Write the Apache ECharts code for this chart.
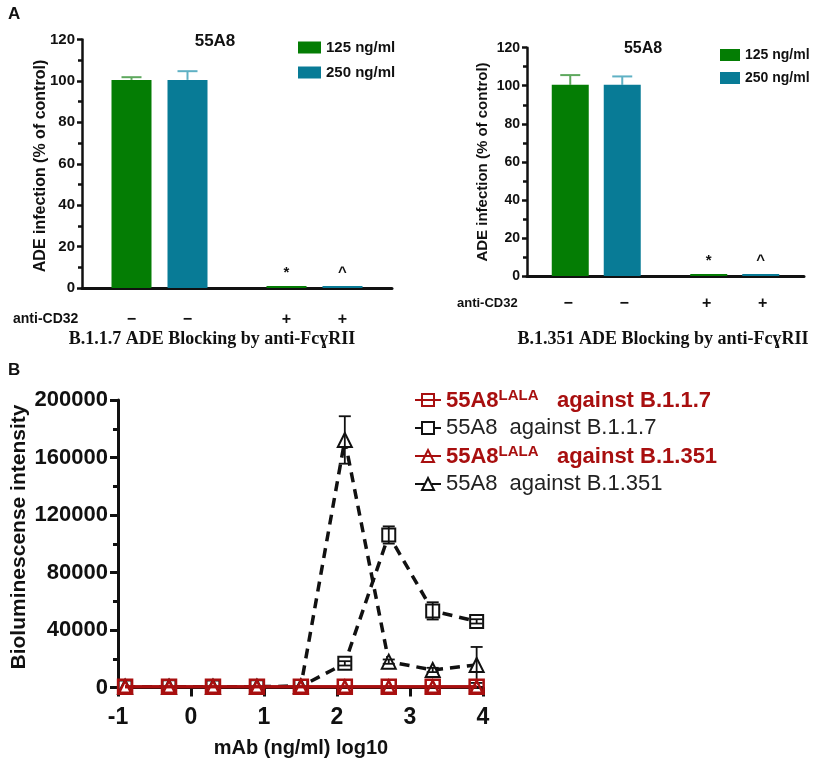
<!DOCTYPE html>
<html>
<head>
<meta charset="utf-8">
<script src="https://cdn.jsdelivr.net/npm/echarts@6/dist/echarts.min.js"></script>
<style>
  html, body { margin: 0; padding: 0; background: #fff; }
  #main { width: 829px; height: 766px; }
</style>
</head>
<body>
<div id="main"></div>
<script>
// panel A: ADE blocking (% of control)
var groupsA = ['−', '+'];
var b117_125 = [100.5, 1.0];
var b117_250 = [100.5, 1.0];
var b117_err125 = [1.3, 0];
var b117_err250 = [4.2, 0];
var b1351_125 = [100.5, 1.0];
var b1351_250 = [100.5, 1.0];
var b1351_err125 = [5.1, 0];
var b1351_err250 = [4.4, 0];
var sigMark125 = ['', '*'];
var sigMark250 = ['', '^'];

// panel B: bioluminescence vs log10 dose
var logDose = [-0.903, -0.301, 0.301, 0.903, 1.505, 2.107, 2.709, 3.311, 3.913];
var lala117 = [500, 500, 500, 500, 500, 500, 500, 500, 500];
var wt117 = [400, 500, 400, 500, 700, 16800, 106100, 53300, 46000];
var wt117Err = [0, 0, 0, 0, 0, 1500, 6000, 6000, 1500];
var lala1351 = [500, 500, 500, 500, 500, 500, 500, 500, 500];
var wt1351 = [500, 600, 500, 600, 900, 172200, 18000, 12200, 15700];
var wt1351Err = [0, 0, 0, 0, 0, 16500, 1500, 1500, 12500];

var GREEN = '#047d04', TEAL = '#087b96', RED = '#a80f0f', INK = '#111';
var FONT = 'Liberation Sans, Arial, sans-serif';

function pairs(xs, ys) {
  return xs.map(function (x, i) { return [x, ys[i]]; });
}
function errData(xs, ys, es) {
  var out = [];
  xs.forEach(function (x, i) { if (es[i] > 0) out.push([x, ys[i] - es[i], ys[i] + es[i]]); });
  return out;
}
function upErr(vals, es) {
  return vals.map(function (v, i) { return [i, v, v + es[i]]; }).filter(function (d, i) { return es[i] > 0; });
}

// error bar drawer; off = horizontal pixel shift, cap = cap width, both = caps on both ends
function errRender(off, cap, color, width, both) {
  return function (params, api) {
    var hi = api.coord([api.value(0), api.value(2)]);
    var lo = api.coord([api.value(0), api.value(1)]);
    var x = hi[0] + off;
    var st = { stroke: color, lineWidth: width, fill: null };
    var ch = [
      { type: 'line', shape: { x1: x, y1: lo[1], x2: x, y2: hi[1] }, style: st },
      { type: 'line', shape: { x1: x - cap / 2, y1: hi[1], x2: x + cap / 2, y2: hi[1] }, style: st }
    ];
    if (both) ch.push({ type: 'line', shape: { x1: x - cap / 2, y1: lo[1], x2: x + cap / 2, y2: lo[1] }, style: st });
    return { type: 'group', children: ch };
  };
}

function catAxis(grid, pitch, margin) {
  return {
    type: 'category', gridIndex: grid, data: groupsA,
    axisLine: { lineStyle: { color: INK, width: 3 } },
    axisTick: { alignWithLabel: true, length: 7, lineStyle: { color: INK, width: 3 } },
    axisLabel: {
      margin: margin,
      formatter: function (v) { return '{s|' + v + '}{s|' + v + '}'; },
      rich: { s: { width: pitch, align: 'center', fontSize: 16, fontWeight: 'bold', color: INK, fontFamily: FONT } }
    }
  };
}
function pctAxis(grid, fs) {
  return {
    type: 'value', gridIndex: grid, min: 0, max: 120, interval: 20,
    axisLine: { show: true, onZero: false, lineStyle: { color: INK, width: 2.5 } },
    axisTick: { show: true, length: 5, lineStyle: { color: INK, width: 2.5 } },
    minorTick: { show: true, splitNumber: 2, length: 4, lineStyle: { color: INK, width: 2.5 } },
    splitLine: { show: false },
    axisLabel: { margin: 7, fontSize: fs, fontWeight: 'bold', color: INK, fontFamily: FONT }
  };
}
function barSeries(name, grid, vals, color, w, gap, marks) {
  return {
    type: 'bar', name: name, xAxisIndex: grid, yAxisIndex: grid,
    data: vals, barWidth: w, barGap: gap,
    itemStyle: { color: color },
    label: {
      show: true, position: 'top', distance: 6, fontSize: 15, fontWeight: 'bold', color: INK,
      formatter: function (p) { return marks[p.dataIndex]; }
    }
  };
}

function legendB(name) {
  var tail = name.split('against ')[1];
  if (name.indexOf('LALA') > 0) return '{r|55A8}{rs|LALA}{r|   against ' + tail + '}';
  return '{k|55A8  against ' + tail + '}';
}

var chart = echarts.init(document.getElementById('main'));
var option = {
  animation: false,
  textStyle: { fontFamily: FONT },
  grid: [
    { left: 82, top: 39.5, width: 310, height: 248.5 },
    { left: 527, top: 47.7, width: 277, height: 228.3 },
    { left: 118, top: 400, width: 365, height: 287.5 }
  ],
  xAxis: [
    catAxis(0, 56, 24),
    catAxis(1, 56, 20),
    {
      type: 'value', gridIndex: 2, min: -1, max: 4, interval: 1,
      axisLine: { onZero: false, lineStyle: { color: INK, width: 3 } },
      axisTick: { length: 9, lineStyle: { color: INK, width: 3 } },
      splitLine: { show: false },
      axisLabel: { margin: 19, fontSize: 23, fontWeight: 'bold', color: INK, fontFamily: FONT }
    }
  ],
  yAxis: [
    pctAxis(0, 15),
    pctAxis(1, 14),
    {
      type: 'value', gridIndex: 2, min: 0, max: 200000, interval: 40000,
      axisLine: { show: true, onZero: false, lineStyle: { color: INK, width: 3 } },
      axisTick: { show: true, length: 8, lineStyle: { color: INK, width: 3 } },
      minorTick: { show: true, splitNumber: 2, length: 5, lineStyle: { color: INK, width: 3 } },
      splitLine: { show: false },
      axisLabel: {
        margin: 10, fontSize: 22, fontWeight: 'bold', color: INK, fontFamily: FONT,
        formatter: function (v) { return String(v); }
      }
    }
  ],
  legend: [
    {
      data: ['125 ng/ml', '250 ng/ml'], left: 293, top: 35, orient: 'vertical',
      icon: 'rect', itemWidth: 23, itemHeight: 12, itemGap: 10, selectedMode: false,
      textStyle: { fontSize: 15, fontWeight: 'bold', color: INK, fontFamily: FONT }
    },
    {
      data: ['125 ng/ml', '250 ng/ml'], left: 715, top: 43, orient: 'vertical',
      icon: 'rect', itemWidth: 20, itemHeight: 12, itemGap: 9, selectedMode: false,
      textStyle: { fontSize: 14, fontWeight: 'bold', color: INK, fontFamily: FONT }
    },
    {
      data: ['55A8LALA against B.1.1.7', '55A8 against B.1.1.7', '55A8LALA against B.1.351', '55A8 against B.1.351'],
      left: 409, top: 383, orient: 'vertical', itemWidth: 26, itemHeight: 15, itemGap: 5,
      selectedMode: false, formatter: legendB,
      textStyle: {
        fontFamily: FONT,
        rich: {
          r: { fontSize: 22, fontWeight: 'bold', color: RED, lineHeight: 24, verticalAlign: 'bottom', fontFamily: FONT },
          rs: { fontSize: 15, fontWeight: 'bold', color: RED, lineHeight: 14, verticalAlign: 'top', fontFamily: FONT },
          k: { fontSize: 22, color: '#222', lineHeight: 24, fontFamily: FONT }
        }
      }
    }
  ],
  series: [
    barSeries('125 ng/ml', 0, b117_125, GREEN, 40, '40%', sigMark125),
    barSeries('250 ng/ml', 0, b117_250, TEAL, 40, '40%', sigMark250),
    barSeries('125 ng/ml', 1, b1351_125, GREEN, 37, '40.5%', sigMark125),
    barSeries('250 ng/ml', 1, b1351_250, TEAL, 37, '40.5%', sigMark250),
    { type: 'custom', xAxisIndex: 0, yAxisIndex: 0, data: upErr(b117_125, b117_err125), renderItem: errRender(-28, 20, '#5ea85e', 2, false), z: 1 },
    { type: 'custom', xAxisIndex: 0, yAxisIndex: 0, data: upErr(b117_250, b117_err250), renderItem: errRender(28, 20, '#5fb1c4', 2, false), z: 1 },
    { type: 'custom', xAxisIndex: 1, yAxisIndex: 1, data: upErr(b1351_125, b1351_err125), renderItem: errRender(-26, 20, '#5ea85e', 2, false), z: 1 },
    { type: 'custom', xAxisIndex: 1, yAxisIndex: 1, data: upErr(b1351_250, b1351_err250), renderItem: errRender(26, 20, '#5fb1c4', 2, false), z: 1 },

    {
      type: 'line', name: '55A8 against B.1.1.7', xAxisIndex: 2, yAxisIndex: 2,
      data: pairs(logDose, wt117), symbol: 'emptyRect', symbolSize: 13,
      lineStyle: { color: INK, width: 3.5, type: [10, 7] },
      itemStyle: { color: INK, borderColor: INK, borderWidth: 2 }, z: 3
    },
    {
      type: 'line', name: '55A8 against B.1.351', xAxisIndex: 2, yAxisIndex: 2,
      data: pairs(logDose, wt1351), symbol: 'emptyTriangle', symbolSize: 14,
      lineStyle: { color: INK, width: 3.5, type: [10, 7] },
      itemStyle: { color: INK, borderColor: INK, borderWidth: 2 }, z: 3
    },
    { type: 'custom', xAxisIndex: 2, yAxisIndex: 2, data: errData(logDose, wt117, wt117Err), renderItem: errRender(0, 12, INK, 1.8, true), z: 4 },
    { type: 'custom', xAxisIndex: 2, yAxisIndex: 2, data: errData(logDose, wt1351, wt1351Err), renderItem: errRender(0, 12, INK, 1.8, true), z: 4 },
    {
      type: 'line', name: '55A8LALA against B.1.1.7', xAxisIndex: 2, yAxisIndex: 2,
      data: pairs(logDose, lala117), symbol: 'rect', symbolSize: 14,
      lineStyle: { color: RED, width: 3 },
      itemStyle: { color: 'rgba(0,0,0,0)', borderColor: RED, borderWidth: 2.5 }, z: 5
    },
    {
      type: 'line', name: '55A8LALA against B.1.351', xAxisIndex: 2, yAxisIndex: 2,
      data: pairs(logDose, lala1351), symbol: 'triangle', symbolSize: 12,
      lineStyle: { color: RED, width: 3 },
      itemStyle: { color: 'rgba(0,0,0,0)', borderColor: RED, borderWidth: 2.5 }, z: 5
    }
  ],
  graphic: [
    { type: 'text', x: 8, y: 6, style: { text: 'A', font: 'bold 17px ' + FONT, fill: INK } },
    { type: 'text', x: 8, y: 362, style: { text: 'B', font: 'bold 17px ' + FONT, fill: INK } },
    { type: 'text', x: 41, y: 166, rotation: Math.PI / 2, style: { text: 'ADE infection (% of control)', font: 'bold 16px ' + FONT, fill: INK, align: 'center', verticalAlign: 'middle' } },
    { type: 'text', x: 483, y: 162, rotation: Math.PI / 2, style: { text: 'ADE infection (% of control)', font: 'bold 15px ' + FONT, fill: INK, align: 'center', verticalAlign: 'middle' } },
    { type: 'text', x: 215, y: 41, style: { text: '55A8', font: 'bold 17px ' + FONT, fill: INK, align: 'center', verticalAlign: 'middle' } },
    { type: 'text', x: 643, y: 49, style: { text: '55A8', font: 'bold 16px ' + FONT, fill: INK, align: 'center', verticalAlign: 'middle' } },
    { type: 'text', x: 13, y: 319, style: { text: 'anti-CD32', font: 'bold 14px ' + FONT, fill: INK, verticalAlign: 'middle' } },
    { type: 'text', x: 457, y: 303, style: { text: 'anti-CD32', font: 'bold 13px ' + FONT, fill: INK, verticalAlign: 'middle' } },
    { type: 'text', x: 212, y: 339, style: { text: 'B.1.1.7 ADE Blocking by anti-FcɣRII', font: 'bold 18px Liberation Serif, Times New Roman, serif', fill: INK, align: 'center', verticalAlign: 'middle' } },
    { type: 'text', x: 663, y: 339, style: { text: 'B.1.351 ADE Blocking by anti-FcɣRII', font: 'bold 18px Liberation Serif, Times New Roman, serif', fill: INK, align: 'center', verticalAlign: 'middle' } },
    { type: 'text', x: 19, y: 537, rotation: Math.PI / 2, style: { text: 'Bioluminescense intensity', font: 'bold 21px ' + FONT, fill: INK, align: 'center', verticalAlign: 'middle' } },
    { type: 'text', x: 301, y: 748, style: { text: 'mAb (ng/ml) log10', font: 'bold 20px ' + FONT, fill: INK, align: 'center', verticalAlign: 'middle' } }
  ]
};
chart.setOption(option);
</script>
</body>
</html>
